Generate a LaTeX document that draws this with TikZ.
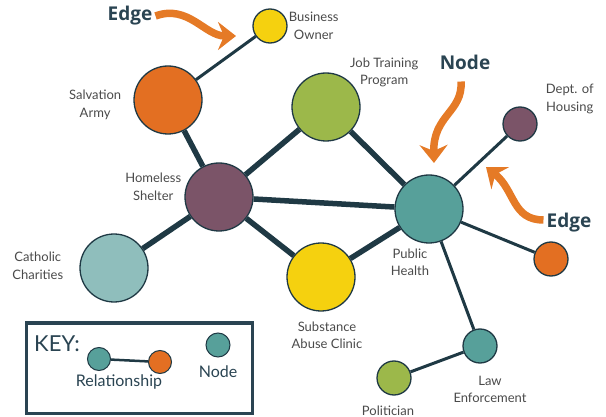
\documentclass[tikz,border=0pt]{standalone}
\usepackage{fontspec}
\setmainfont{Lato}
\newfontfamily\headfont{Open Sans}
\usetikzlibrary{arrows.meta,positioning}
\definecolor{netline}{HTML}{1F3944}
\definecolor{navy}{HTML}{2A4452}
\definecolor{labelgray}{HTML}{4A4A4A}
\definecolor{arroworange}{HTML}{E57A26}
\definecolor{orgorange}{HTML}{E36F22}
\definecolor{orgyellow}{HTML}{F5D10F}
\definecolor{orggreen}{HTML}{9CB84A}
\definecolor{orgpurple}{HTML}{7B5468}
\definecolor{orgteal}{HTML}{57A09A}
\definecolor{orglightteal}{HTML}{8FBEBC}
\tikzset{
	%Define standard arrow tip
	>={Stealth[length=18pt,width=28pt,inset=6pt]},
	%Define styles for the circles
	big/.style={circle, draw=netline, line width=1.3pt, inner sep=0pt, minimum size=68pt},
	small/.style={circle, draw=netline, line width=1.3pt, inner sep=0pt, minimum size=34pt},
	keydot/.style={circle, draw=netline, line width=1pt, inner sep=0pt, minimum size=23pt},
	%Define styles for texts
	mylabel/.style={align=center, inner sep=0pt, text=labelgray, font=\fontsize{13}{17.5}\selectfont},
	callout/.style={inner sep=0pt, text=navy, font=\headfont\bfseries\fontsize{19}{22}\selectfont},
	keybox/.style={rectangle, draw=navy, line width=3pt, minimum width=226pt, minimum height=90pt},
	% Define line styles
	tie/.style={draw=netline, line width=5.5pt},
	thintie/.style={draw=netline, line width=3pt},
	pointer/.style={->, draw=arroworange, line width=7.5pt}
}
\begin{document}
\begin{tikzpicture}[x=1pt, y=-1pt]
	\useasboundingbox (0,0) rectangle (606,417);
	% circles of the network
	\node[small, fill=orgyellow] (biz) at (270,26) {};
	\node[big, fill=orgorange] (salv) at (168,100) {};
	\node[big, fill=orggreen] (jobs) at (326,107) {};
	\node[big, fill=orgpurple] (shelter) at (219,197) {};
	\node[big, fill=orgteal] (pub) at (429,209) {};
	\node[small, fill=orgpurple] (dept) at (520,124) {};
	\node[small, fill=orgorange] (extra) at (551,259) {};
	\node[big, fill=orgyellow] (sub) at (321,277) {};
	\node[big, fill=orglightteal] (cath) at (114,268) {};
	\node[small, fill=orgteal] (law) at (480,346) {};
	\node[small, fill=orggreen] (pol) at (394,378) {};
	% names of the circles
	\node[mylabel, right=1pt of biz] (bizl) {Business\\Owner};
	\node[mylabel, left=12pt of salv, yshift=-5pt] (salvl) {Salvation\\Army};
	\node[mylabel, right=24pt of jobs.north] (jobsl) {Job Training\\Program};
	\node[mylabel, left=3pt of shelter, yshift=10pt] (shelterl) {Homeless\\Shelter};
	\node[mylabel, right=8pt of dept, yshift=25pt] (deptl) {Dept. of\\Housing};
	\node[mylabel, left=16pt of cath, yshift=2pt] (cathl) {Catholic\\Charities};
	\node[mylabel, below=5pt of pub, xshift=-19pt] (publ) {Public\\Health};
	\node[mylabel, below=10pt of sub, xshift=6pt] (subl) {Substance\\Abuse Clinic};
	\node[mylabel, below=12pt of law, xshift=10pt] (lawl) {Law\\Enforcement};
	\node[mylabel, below=10pt of pol, xshift=-6pt] (poll) {Politician};
	% relationships
	\draw[tie] (salv) -- (shelter);
	\draw[tie] (shelter) -- (jobs);
	\draw[tie] (shelter) -- (pub);
	\draw[tie] (shelter) -- (cath);
	\draw[tie] (shelter) -- (sub);
	\draw[tie] (jobs) -- (pub);
	\draw[tie] (sub) -- (pub);
	\draw[thintie] (biz) -- (salv);
	\draw[thintie] (pub) -- (dept);
	\draw[thintie] (pub) -- (extra);
	\draw[thintie] (pub) -- (law);
	\draw[thintie] (law) -- (pol);
	% callouts
	\node[callout] (edgel) at (130,16) {Edge};
	\node[callout] (nodel) at (465,62) {Node};
	\node[callout] (edger) at (569,223) {Edge};
	\coordinate (tipa) at (236,36);
	\coordinate (tipb) at (434,163);
	\coordinate (tipc) at (486,167);
	\draw[pointer] ([xshift=3pt]edgel.east) .. controls (188,4) and (205,36) .. (tipa);
	\draw[pointer] ([xshift=-4pt,yshift=-12pt]nodel.south) .. controls (463,112) and (433,115) .. (tipb);
	\draw[pointer] ([xshift=-3pt,yshift=3pt]edger.west) .. controls (512,220) and (515,190) .. (tipc);
	% key
	\node[keybox] (key) at (139,368) {};
	\node[inner sep=0pt, text=navy, font=\fontsize{22}{24}\selectfont, below right=14pt and 9.5pt of key.north west] (keyl) {KEY:};
	\node[keydot, fill=orgteal] (keya) at (99,359) {};
	\node[keydot, fill=orgorange] (keyb) at (160,362) {};
	\node[keydot, fill=orgteal, minimum size=24pt] (keyc) at (218,345) {};
	\draw[netline, line width=2.5pt] (keya) -- (keyb);
	\node[mylabel, text=navy, font=\fontsize{16}{18}\selectfont, below=4pt of keya, xshift=20pt] (rell) {Relationship};
	\node[mylabel, text=navy, font=\fontsize{16}{18}\selectfont, below=8pt of keyc] (nodekl) {Node};
\end{tikzpicture}
\end{document}
